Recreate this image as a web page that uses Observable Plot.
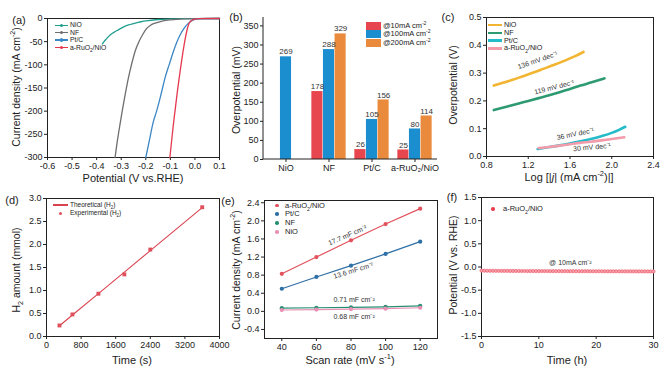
<!DOCTYPE html>
<html>
<head>
<meta charset="utf-8">
<script src="https://cdn.jsdelivr.net/npm/d3@7"></script>
<script src="https://cdn.jsdelivr.net/npm/@observablehq/plot@0.6"></script>
<style>
  body { margin: 0; background: #fff; }
  #root { position: relative; width: 667px; height: 367px; overflow: hidden;
          font-family: "Liberation Sans", Arial, sans-serif; color: #222; background: #fff; }
  .t { position: absolute; white-space: nowrap; line-height: 1; }
  sub, sup { font-size: 68%; line-height: 0; }
  .sw { position: absolute; }
</style>
</head>
<body>
<div id="root"></div>
<script>
// ---------------- (a) LSV polarization curves ----------------
const aNames = ["NiO", "NF", "Pt/C", "a-RuO2/NiO"];
const aNiO_E = [-0.377, -0.370, -0.360, -0.350, -0.330, -0.310, -0.290, -0.270, -0.250, -0.220, -0.190, -0.150, -0.100, -0.050, 0.000, 0.100];
const aNiO_J = [-55, -50, -44, -38, -30, -24, -18, -14, -11, -7, -4.5, -2.2, -1, -0.4, -0.1, 0];
const aNF_E = [-0.325, -0.316, -0.306, -0.296, -0.286, -0.276, -0.266, -0.256, -0.243, -0.228, -0.213, -0.197, -0.182, -0.162, -0.137, -0.112, -0.077, -0.040, 0.000, 0.050, 0.100];
const aNF_J = [-300, -265, -232, -200, -170, -142, -117, -95, -70, -50, -35, -22, -15, -10, -6, -3.5, -2, -1, -0.4, -0.1, 0];
const aPtC_E = [-0.200, -0.185, -0.170, -0.156, -0.140, -0.120, -0.105, -0.090, -0.075, -0.060, -0.045, -0.035, -0.026, -0.015, -0.005, 0.010, 0.030, 0.060, 0.100];
const aPtC_J = [-300, -262, -224, -200, -168, -125, -100, -75, -53, -35, -22, -15, -10, -5.5, -2.8, -1, -0.3, -0.1, 0];
const aRu_E = [-0.102, -0.095, -0.088, -0.080, -0.072, -0.064, -0.056, -0.048, -0.040, -0.033, -0.025, -0.018, -0.010, 0.000, 0.020, 0.050, 0.100];
const aRu_J = [-300, -265, -230, -195, -160, -128, -98, -70, -45, -27, -12, -6, -3, -1.2, -0.3, -0.05, 0];
const aXTicks = [-0.6, -0.5, -0.4, -0.3, -0.2, -0.1, 0.0, 0.1];
const aYTicks = [0, -50, -100, -150, -200, -250, -300];

// ---------------- (b) overpotentials ----------------
const bCategories = ["NiO", "NF", "Pt/C", "a-RuO\u2082/NiO"];
const b10 = [null, 178, 26, 25];
const b100 = [269, 288, 105, 80];
const b200 = [null, 329, 156, 114];
const bYTicks = [0, 50, 100, 150, 200, 250, 300, 350];

// ---------------- (c) Tafel plots ----------------
const cNiO_x = [0.87, 0.95, 1.05, 1.15, 1.25, 1.35, 1.45, 1.55, 1.65, 1.73];
const cNiO_y = [0.255, 0.264, 0.276, 0.289, 0.302, 0.316, 0.330, 0.345, 0.361, 0.376];
const cNF_x = [0.87, 1.0, 1.1, 1.2, 1.3, 1.4, 1.5, 1.6, 1.7, 1.8, 1.93];
const cNF_y = [0.167, 0.180, 0.190, 0.200, 0.210, 0.220, 0.231, 0.243, 0.255, 0.266, 0.281];
const cPtC_x = [1.29, 1.4, 1.5, 1.6, 1.7, 1.8, 1.9, 2.0, 2.07, 2.13];
const cPtC_y = [0.027, 0.034, 0.040, 0.047, 0.055, 0.063, 0.073, 0.085, 0.096, 0.107];
const cRu_x = [1.3, 1.4, 1.5, 1.6, 1.7, 1.8, 1.9, 2.0, 2.12];
const cRu_y = [0.030, 0.034, 0.039, 0.044, 0.049, 0.053, 0.058, 0.063, 0.069];
const cSlopes = ["136 mV dec\u207B\u00B9", "119 mV dec\u207B\u00B9", "36 mV dec\u207B\u00B9", "30 mV dec\u207B\u00B9"];
const cXTicks = [0.8, 1.2, 1.6, 2.0, 2.4];
const cYTicks = [0.0, 0.1, 0.2, 0.3, 0.4, 0.5];

// ---------------- (d) H2 amount ----------------
const dTheoT = [300, 600, 1200, 1800, 2400, 3600];
const dTheoH2 = [0.233, 0.467, 0.933, 1.400, 1.867, 2.800];
const dExpT = [300, 600, 1200, 1800, 2400, 3600];
const dExpH2 = [0.24, 0.48, 0.93, 1.35, 1.89, 2.81];
const dXTicks = [0, 800, 1600, 2400, 3200, 4000];
const dYTicks = [0.0, 0.5, 1.0, 1.5, 2.0, 2.5, 3.0];

// ---------------- (e) double-layer capacitance ----------------
const eScan = [40, 60, 80, 100, 120];
const eRu = [0.83, 1.20, 1.57, 1.93, 2.27];
const ePtC = [0.50, 0.76, 1.01, 1.27, 1.54];
const eNF = [0.07, 0.08, 0.09, 0.10, 0.12];
const eNiO = [0.03, 0.04, 0.05, 0.06, 0.08];
const eCdl = ["17.7 mF cm\u207B\u00B2", "13.6 mF cm\u207B\u00B2", "0.71 mF cm\u207B\u00B2", "0.68 mF cm\u207B\u00B2"];
const eXTicks = [40, 60, 80, 100, 120];
const eYTicks = [-0.4, 0.0, 0.4, 0.8, 1.2, 1.6, 2.0, 2.4];

// ---------------- (f) stability ----------------
const fTime = [0, 0.5, 1, 1.5, 2, 2.5, 3, 3.5, 4, 4.5, 5, 5.5, 6, 6.5, 7, 7.5, 8, 8.5, 9, 9.5, 10,
  10.5, 11, 11.5, 12, 12.5, 13, 13.5, 14, 14.5, 15, 15.5, 16, 16.5, 17, 17.5, 18, 18.5, 19, 19.5, 20,
  20.5, 21, 21.5, 22, 22.5, 23, 23.5, 24, 24.5, 25, 25.5, 26, 26.5, 27, 27.5, 28, 28.5, 29, 29.5, 30];
const fPot = [-0.078, -0.080, -0.081, -0.082, -0.082, -0.083, -0.083, -0.084, -0.084, -0.084, -0.085,
  -0.085, -0.085, -0.086, -0.086, -0.086, -0.087, -0.087, -0.087, -0.087, -0.088,
  -0.088, -0.088, -0.088, -0.089, -0.089, -0.089, -0.089, -0.090, -0.090, -0.090,
  -0.090, -0.090, -0.091, -0.091, -0.091, -0.091, -0.091, -0.092, -0.092, -0.092,
  -0.092, -0.092, -0.093, -0.093, -0.093, -0.093, -0.093, -0.094, -0.094, -0.094,
  -0.094, -0.094, -0.094, -0.095, -0.095, -0.095, -0.095, -0.095, -0.096, -0.096];
const fXTicks = [0, 10, 20, 30];
const fYTicks = [-1.5, -1.0, -0.5, 0.0, 0.5, 1.0, 1.5];

// ---------------- helpers ----------------
const root = document.getElementById("root");
const FONT = "Liberation Sans, Arial, sans-serif";
const baseStyle = { fontFamily: FONT, fontSize: "9px", color: "#222", background: "transparent", overflow: "visible" };
const f1 = d => d.toFixed(1);
const f0 = d => String(d);
const axisOpts = { tickSize: 3, tickPadding: 2, label: null };

function addPlot(svg, left, top) {
  svg.style.position = "absolute";
  svg.style.left = left + "px";
  svg.style.top = top + "px";
  root.appendChild(svg);
}
function text(html, cx, cy, size, rotate, anchor) {
  const d = document.createElement("div");
  d.className = "t";
  d.innerHTML = html;
  d.style.left = cx + "px";
  d.style.top = cy + "px";
  d.style.fontSize = size + "px";
  const tx = anchor === "start" ? "0" : "-50%";
  d.style.transform = `translate(${tx},-50%)` + (rotate ? ` rotate(${rotate}deg)` : "");
  root.appendChild(d);
}
function swatch(kind, color, x0, x1, y) {
  if (kind === "line" || kind === "linedot") {
    const l = document.createElement("div");
    l.className = "sw";
    Object.assign(l.style, { left: x0 + "px", top: (y - 0.7) + "px", width: (x1 - x0) + "px", height: "1.4px", background: color });
    root.appendChild(l);
  }
  if (kind === "thick") {
    const l = document.createElement("div");
    l.className = "sw";
    Object.assign(l.style, { left: x0 + "px", top: (y - 1.2) + "px", width: (x1 - x0) + "px", height: "2.4px", background: color });
    root.appendChild(l);
  }
  if (kind === "dot" || kind === "linedot") {
    const c = document.createElement("div");
    c.className = "sw";
    const cx = (x0 + x1) / 2;
    Object.assign(c.style, { left: (cx - 1.8) + "px", top: (y - 1.8) + "px", width: "3.6px", height: "3.6px", borderRadius: "50%", background: color });
    root.appendChild(c);
  }
  if (kind === "rect") {
    const r = document.createElement("div");
    r.className = "sw";
    Object.assign(r.style, { left: x0 + "px", top: (y - 4) + "px", width: (x1 - x0) + "px", height: "8px", background: color });
    root.appendChild(r);
  }
}
function legend(items, kind, x0, x1, xt, ys, size) {
  items.forEach((it, i) => {
    swatch(kind, it.color, x0, x1, ys[i]);
    text(it.html, xt, ys[i], size, 0, "start");
  });
}
function series(names, xs, ys) {
  return names.flatMap((s, k) => xs[k].map((x, i) => ({ s, x, y: ys[k][i] })));
}

// ================= (a) =================
const aColors = ["#1f9e8e", "#6e6e6e", "#3b86c4", "#e5384f"];
const aData = series(aNames, [aNiO_E, aNF_E, aPtC_E, aRu_E], [aNiO_J, aNF_J, aPtC_J, aRu_J]);
addPlot(Plot.plot({
  width: 225, height: 182, marginLeft: 47, marginRight: 6, marginTop: 18, marginBottom: 25,
  style: baseStyle,
  x: { domain: [-0.6, 0.1], ticks: aXTicks, tickFormat: f1, ...axisOpts },
  y: { domain: [-300, 0], ticks: aYTicks, tickFormat: f0, ...axisOpts },
  color: { domain: aNames, range: aColors },
  marks: [
    Plot.frame({ stroke: "#222" }),
    Plot.line(aData, { x: "x", y: "y", z: "s", stroke: "s", strokeWidth: 1.3, curve: "monotone-x" })
  ]
}), 0, 0);

// ================= (b) =================
const bColors = ["#e8464e", "#1b8ed0", "#ea8a3d"];
const bBand = 43.5, bW = 11.6, bPad = (bBand - 3 * bW) / 2;
const bRows = [b10, b100, b200].map(arr => bCategories.map((c, i) => ({ c, v: arr[i] })).filter(d => d.v != null));
const bAxisLine = (index, scales, values, dim) => {
  const p = document.createElementNS("http://www.w3.org/2000/svg", "path");
  p.setAttribute("d", `M${dim.marginLeft},${dim.marginTop}V${dim.height - dim.marginBottom}H${dim.width - dim.marginRight}`);
  p.setAttribute("fill", "none");
  p.setAttribute("stroke", "#222");
  return p;
};
addPlot(Plot.plot({
  width: 215, height: 182, marginLeft: 38, marginRight: 3, marginTop: 17, marginBottom: 23,
  style: baseStyle,
  x: { domain: bCategories, padding: 0, ...axisOpts },
  y: { domain: [0, 372], ticks: bYTicks, tickFormat: f0, ...axisOpts },
  marks: [
    ...bRows.map((rows, k) => Plot.barY(rows, {
      x: "c", y: "v", fill: bColors[k],
      insetLeft: bPad + k * bW, insetRight: bBand - bPad - (k + 1) * bW
    })),
    ...bRows.map((rows, k) => Plot.text(rows, {
      x: "c", y: "v", text: d => String(d.v), dx: (k - 1) * bW, dy: -5, fontSize: 8, fill: "#333"
    })),
    bAxisLine
  ]
}), 225, 0);

// ================= (c) =================
const cColors = ["#f2b531", "#2e9a72", "#25bcc9", "#f29bab"];
const cData = series(aNames, [cNiO_x, cNF_x, cPtC_x, cRu_x], [cNiO_y, cNF_y, cPtC_y, cRu_y]);
const cLabels = [
  { t: cSlopes[0], x: 1.29, y: 0.346, r: -19 },
  { t: cSlopes[1], x: 1.45, y: 0.249, r: -14 },
  { t: cSlopes[2], x: 1.65, y: 0.081, r: -12 },
  { t: cSlopes[3], x: 1.81, y: 0.033, r: -5 }
];
addPlot(Plot.plot({
  width: 227, height: 182, marginLeft: 46, marginRight: 14, marginTop: 17, marginBottom: 26,
  style: baseStyle,
  x: { domain: [0.8, 2.4], ticks: cXTicks, tickFormat: f1, ...axisOpts },
  y: { domain: [0, 0.5], ticks: cYTicks, tickFormat: f1, ...axisOpts },
  color: { domain: aNames, range: cColors },
  marks: [
    Plot.frame({ stroke: "#222" }),
    Plot.line(cData, { x: "x", y: "y", z: "s", stroke: "s", strokeWidth: 2.6, curve: "monotone-x" }),
    ...cLabels.map(l => Plot.text([l], { x: "x", y: "y", text: "t", rotate: l.r, fontSize: 7, fill: "#333" }))
  ]
}), 440, 0);

// ================= (d) =================
const dData = dTheoT.map((t, i) => ({ t, v: dTheoH2[i] }));
const dExp = dExpT.map((t, i) => ({ t, v: dExpH2[i] }));
addPlot(Plot.plot({
  width: 225, height: 185, marginLeft: 46, marginRight: 6, marginTop: 16, marginBottom: 31,
  style: baseStyle,
  x: { domain: [0, 4000], ticks: dXTicks, tickFormat: f0, ...axisOpts },
  y: { domain: [0, 3.0], ticks: dYTicks, tickFormat: f1, ...axisOpts },
  marks: [
    Plot.frame({ stroke: "#222" }),
    Plot.line(dData, { x: "t", y: "v", stroke: "#d9424f", strokeWidth: 1.1 }),
    Plot.dot(dExp, { x: "t", y: "v", fill: "#e0505c", r: 2.2, symbol: "square" })
  ]
}), 0, 182);

// ================= (e) =================
const eNames = ["a-RuO2/NiO", "Pt/C", "NF", "NiO"];
const eColors = ["#e2525c", "#2e6fa6", "#268f72", "#e98fb3"];
const eData = series(eNames, [eScan, eScan, eScan, eScan], [eRu, ePtC, eNF, eNiO]);
const eLabels = [
  { t: eCdl[0], x: 78, y: 1.68, r: -23 },
  { t: eCdl[1], x: 81.3, y: 0.90, r: -17 },
  { t: eCdl[2], x: 81.8, y: 0.25, r: 0 },
  { t: eCdl[3], x: 81.8, y: -0.13, r: 0 }
];
addPlot(Plot.plot({
  width: 215, height: 185, marginLeft: 39, marginRight: 3, marginTop: 18, marginBottom: 29,
  style: baseStyle,
  x: { domain: [30, 130], ticks: eXTicks, tickFormat: f0, ...axisOpts },
  y: { domain: [-0.6, 2.45], ticks: eYTicks, tickFormat: f1, ...axisOpts },
  color: { domain: eNames, range: eColors },
  marks: [
    Plot.frame({ stroke: "#222" }),
    Plot.line(eData, { x: "x", y: "y", z: "s", stroke: "s", strokeWidth: 1.2 }),
    Plot.dot(eData, { x: "x", y: "y", fill: "s", r: 2.1 }),
    ...eLabels.map(l => Plot.text([l], { x: "x", y: "y", text: "t", rotate: l.r, fontSize: 7, fill: "#333" }))
  ]
}), 225, 182);

// ================= (f) =================
const fData = fTime.map((t, i) => ({ t, v: fPot[i] }));
addPlot(Plot.plot({
  width: 227, height: 185, marginLeft: 41, marginRight: 14, marginTop: 15, marginBottom: 31,
  style: baseStyle,
  x: { domain: [0, 30], ticks: fXTicks, tickFormat: f0, ...axisOpts },
  y: { domain: [-1.5, 1.5], ticks: fYTicks, tickFormat: f1, ...axisOpts },
  marks: [
    Plot.frame({ stroke: "#222" }),
    Plot.line(fData, { x: "t", y: "v", stroke: "#e8404f", strokeWidth: 1.4 }),
    Plot.dot(fData, { x: "t", y: "v", stroke: "#ee6070", fill: "#f6a0aa", r: 1.6, strokeWidth: 0.7 }),
    Plot.text(["@ 10mA cm\u207B\u00B2"], { x: () => 15.5, y: () => 0.1, text: d => d, fontSize: 7, fill: "#333" })
  ]
}), 440, 182);

// ================= titles, panel labels, legends =================
const TX = 11, TY = 10.5;
// axis titles
text("Potential (V vs.RHE)", 133, 177.5, TX);
text("Current density (mA cm<sup>-2</sup>)", 16, 87, TY, -90);
text("Overpotential (mV)", 236, 90, TY, -90);
text("Log [|<i>j</i>| (mA cm<sup>-2</sup>)|]", 569, 176.5, TX);
text("Overpotential (V)", 453, 85, TY, -90);
text("Time (s)", 132, 359.5, TX);
text("H<sub>2</sub> amount (mmol)", 16, 270, TY, -90);
text("Scan rate (mV s<sup>-1</sup>)", 350, 359.5, TX);
text("Current density (mA cm<sup>-2</sup>)", 236, 270, TY, -90);
text("Time (h)", 567, 359.5, TX);
text("Potential (V vs. RHE)", 453, 265, TY, -90);
// panel labels
text("(a)", 19, 20, 11);
text("(b)", 236, 17, 11);
text("(c)", 448, 17, 11);
text("(d)", 12, 200, 11);
text("(e)", 228, 201, 11);
text("(f)", 452, 197, 11);
// legends
legend([
  { html: "NiO", color: aColors[0] }, { html: "NF", color: aColors[1] },
  { html: "Pt/C", color: aColors[2] }, { html: "a-RuO<sub>2</sub>/NiO", color: aColors[3] }
], "linedot", 55, 68, 70, [25.3, 32.7, 40.1, 47.5], 6.8);
legend([
  { html: "@10mA cm<sup>-2</sup>", color: bColors[0] },
  { html: "@100mA cm<sup>-2</sup>", color: bColors[1] },
  { html: "@200mA cm<sup>-2</sup>", color: bColors[2] }
], "rect", 366, 381, 383, [25.5, 34, 42.5], 7.5);
legend([
  { html: "NiO", color: cColors[0] }, { html: "NF", color: cColors[1] },
  { html: "Pt/C", color: cColors[2] }, { html: "a-RuO<sub>2</sub>/NiO", color: cColors[3] }
], "thick", 488, 502, 504, [25, 32.8, 40.6, 48.4], 7.2);
legend([{ html: "Theoretical (H<sub>2</sub>)", color: "#d9424f" }], "line", 53, 68, 70, [205], 6.5);
legend([{ html: "Experimental (H<sub>2</sub>)", color: "#e0505c" }], "dot", 58, 63, 70, [213.3], 6.5);
legend([
  { html: "a-RuO<sub>2</sub>/NiO", color: eColors[0] }, { html: "Pt/C", color: eColors[1] },
  { html: "NF", color: eColors[2] }, { html: "NiO", color: eColors[3] }
], "dot", 274, 280, 285, [205.5, 214.2, 223, 231.8], 7.5);
legend([{ html: "a-RuO<sub>2</sub>/NiO", color: "#e8404f" }], "dot", 490, 496, 503, [209], 7.5);
</script>
</body>
</html>
